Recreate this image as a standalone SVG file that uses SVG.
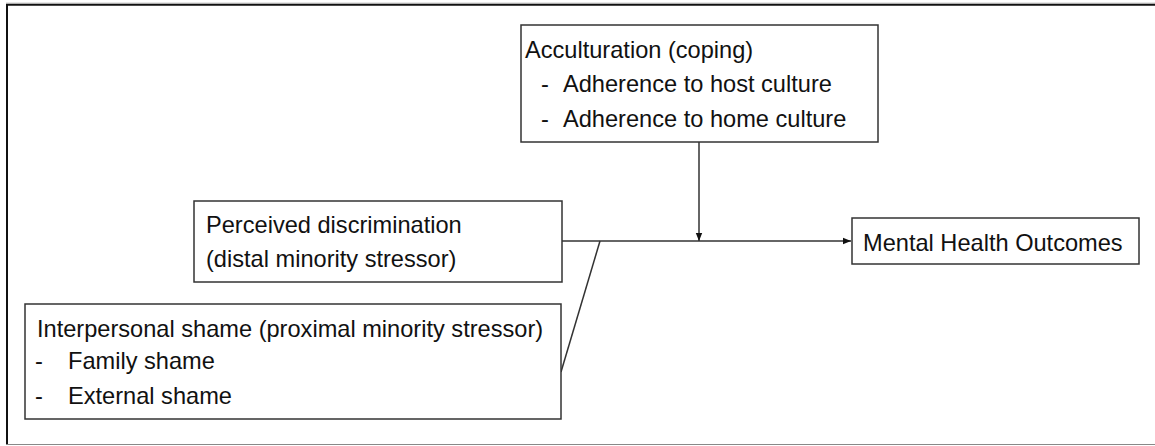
<svg xmlns="http://www.w3.org/2000/svg" width="1155" height="446" viewBox="0 0 1155 446">
<style>
  .box { fill: #ffffff; stroke: #333333; stroke-width: 1.5; }
  .lbl { font-family: "Liberation Sans", Arial, sans-serif; font-size: 23.6px; fill: #111111; }
  .conn { stroke: #333333; stroke-width: 1.5; fill: none; }
</style>
<defs>
  <marker id="arr" markerWidth="8" markerHeight="8" refX="8" refY="4" orient="auto" markerUnits="userSpaceOnUse">
    <path d="M0,0.8 L8,4 L0,7.2 Z" fill="#111111"/>
  </marker>
</defs>
<rect x="0" y="0" width="1155" height="446" fill="#ffffff"/>
<g id="frame">
  <line x1="6" y1="3" x2="1155" y2="3" stroke="#cccccc" stroke-width="1"/>
  <line x1="6" y1="4.8" x2="1155" y2="4.8" stroke="#111111" stroke-width="2"/>
  <line x1="7" y1="4" x2="7" y2="444.5" stroke="#111111" stroke-width="2"/>
  <line x1="6" y1="444.5" x2="1155" y2="444.5" stroke="#888888" stroke-width="1"/>
</g>
<g id="connectors">
  <line class="conn" x1="562" y1="241" x2="851" y2="241" marker-end="url(#arr)"/>
  <line class="conn" x1="699" y1="142" x2="699" y2="241" marker-end="url(#arr)"/>
  <line class="conn" x1="600" y1="241" x2="561" y2="372"/>
</g>
<g id="acculturation">
  <rect class="box" x="521" y="25" width="357" height="117"/>
  <text class="lbl" x="525" y="58">Acculturation (coping)</text>
  <text class="lbl" x="541" y="92">-</text>
  <text class="lbl" x="563" y="92">Adherence to host culture</text>
  <text class="lbl" x="541" y="127">-</text>
  <text class="lbl" x="563" y="127">Adherence to home culture</text>
</g>
<g id="perceived">
  <rect class="box" x="194" y="201" width="368" height="81"/>
  <text class="lbl" x="206" y="233">Perceived discrimination</text>
  <text class="lbl" x="206" y="267">(distal minority stressor)</text>
</g>
<g id="interpersonal">
  <rect class="box" x="25" y="304" width="536" height="115"/>
  <text class="lbl" x="37" y="337">Interpersonal shame (proximal minority stressor)</text>
  <text class="lbl" x="35" y="369">-</text>
  <text class="lbl" x="68" y="369">Family shame</text>
  <text class="lbl" x="35" y="404">-</text>
  <text class="lbl" x="68" y="404">External shame</text>
</g>
<g id="outcomes">
  <rect class="box" x="852" y="218" width="287" height="46"/>
  <text class="lbl" x="863" y="251">Mental Health Outcomes</text>
</g>
</svg>
